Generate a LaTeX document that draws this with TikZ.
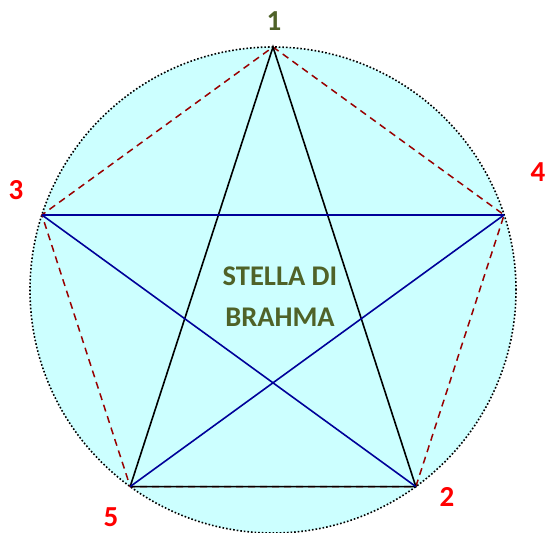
\documentclass[tikz,border=0pt]{standalone}
\usepackage{fontspec}
\setsansfont{Carlito}
\usetikzlibrary{positioning,calc}
\definecolor{olivetext}{HTML}{4F6228}
\definecolor{pentared}{HTML}{990000}
\definecolor{starblue}{HTML}{000099}
\definecolor{discfill}{HTML}{CCFFFF}

\begin{document}
\begin{tikzpicture}[x=1pt,y=1pt]
\tikzset{
  vertexlabel/.style={font=\sffamily\bfseries\fontsize{29}{31}\selectfont,text=red,inner sep=0pt},
  titletext/.style={font=\sffamily\bfseries\fontsize{28.5}{41}\selectfont,text=olivetext,align=center,inner sep=0pt},
  pentaedge/.style={pentared,line width=1.5pt,dash pattern=on 7pt off 5pt},
  blackedge/.style={black,line width=1.6pt},
  blueedge/.style={starblue,line width=1.6pt}
}
\useasboundingbox (0,0) rectangle (547,-533);
\coordinate (c) at (273,-290);
\fill[discfill] (c) circle (243);
\draw[dotted,line width=1.6pt] (c) circle (243);
\coordinate (v1) at ($(c)+(90:243)$);
\coordinate (v4) at ($(c)+(18:243)$);
\coordinate (v2) at ($(c)+(-54:243)$);
\coordinate (v5) at ($(c)+(-126:243)$);
\coordinate (v3) at ($(c)+(162:243)$);
\node[vertexlabel,text=olivetext] (n_1) at (274,-21) {1};
\node[vertexlabel] (n_3) at (16,-190) {3};
\node[vertexlabel] (n_4) at (538,-172) {4};
\node[vertexlabel] (n_5) at (111,-517) {5};
\node[vertexlabel] (n_2) at (447,-497) {2};
\node[titletext] (n_title) at (280,-297) {STELLA DI\\BRAHMA};
\draw[pentaedge] (v1) -- (v4) -- (v2) -- (v5) -- (v3) -- cycle;
\draw[blackedge] (v5) -- (v1) -- (v2) -- (v5);
\draw[blueedge] (v3) -- (v4);
\draw[blueedge] (v3) -- (v2);
\draw[blueedge] (v4) -- (v5);
\end{tikzpicture}
\end{document}
